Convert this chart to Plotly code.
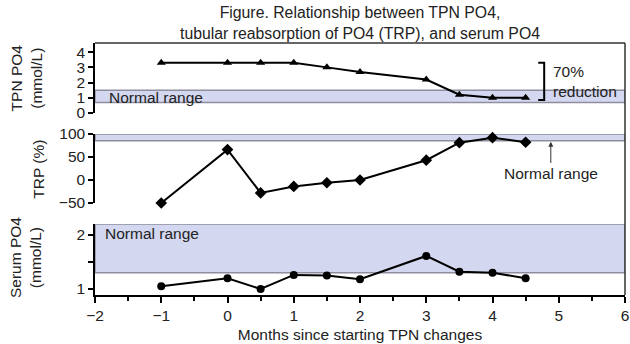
import plotly.graph_objects as go
from plotly.subplots import make_subplots

# months since starting TPN changes
months = [-1, 0, 0.5, 1, 1.5, 2, 3, 3.5, 4, 4.5]

tpn_po4 = [3.3, 3.3, 3.3, 3.3, 3.0, 2.7, 2.2, 1.2, 1.0, 1.0]
trp_pct = [-50, 66, -28, -14, -6, 0, 43, 81, 92, 82]
serum_po4 = [1.05, 1.2, 1.0, 1.26, 1.25, 1.18, 1.61, 1.32, 1.3, 1.2]

# normal ranges
tpn_normal = [0.7, 1.5]
trp_normal = [85, 100]
serum_normal = [1.3, 2.2]

x_ticks = [-2, -1, 0, 1, 2, 3, 4, 5, 6]

FONT = "Liberation Sans, Arial, sans-serif"
FS = 15.5
TXT = "#222222"
BAND_FILL = "#d3d7ef"
BAND_LINE = "#8e8e9e"

fig = make_subplots(rows=3, cols=1, shared_xaxes=True)

fig.add_trace(
    go.Scatter(x=months, y=tpn_po4, mode="lines+markers", cliponaxis=False,
               line=dict(color="black", width=2),
               marker=dict(symbol="triangle-up", size=8, color="black")),
    row=1, col=1,
)
fig.add_trace(
    go.Scatter(x=months, y=trp_pct, mode="lines+markers", cliponaxis=False,
               line=dict(color="black", width=2),
               marker=dict(symbol="diamond", size=9, color="black")),
    row=2, col=1,
)
fig.add_trace(
    go.Scatter(x=months, y=serum_po4, mode="lines+markers", cliponaxis=False,
               line=dict(color="black", width=2),
               marker=dict(symbol="circle", size=8, color="black")),
    row=3, col=1,
)

# normal range bands
for (lo, hi), yref in [(tpn_normal, "y"), (trp_normal, "y2"), (serum_normal, "y3")]:
    fig.add_shape(type="rect", xref="x", yref=yref, x0=-2, x1=6, y0=lo, y1=hi,
                  fillcolor=BAND_FILL, line=dict(color=BAND_LINE, width=1.5),
                  layer="below")

# frame: top and right border
fig.add_shape(type="line", xref="paper", yref="paper", x0=0, x1=1, y0=1, y1=1,
              line=dict(color="#333333", width=1.5))
fig.add_shape(type="line", xref="paper", yref="paper", x0=1, x1=1, y0=0, y1=1,
              line=dict(color="#333333", width=1.5))

# 70% reduction bracket
fig.add_shape(type="path", xref="x", yref="y",
              path="M 4.69 3.3 L 4.78 3.3 L 4.78 0.85 L 4.69 0.85",
              line=dict(color="black", width=2))

ann = dict(showarrow=False, font=dict(family=FONT, size=FS, color=TXT))
fig.add_annotation(x=-1.82, y=1.05, xref="x", yref="y", text="Normal range",
                   xanchor="left", yanchor="middle", **ann)
fig.add_annotation(x=-1.88, y=2.02, xref="x3", yref="y3", text="Normal range",
                   xanchor="left", yanchor="middle", **ann)
fig.add_annotation(x=4.88, y=2.1, xref="x", yref="y", text="70%<br>reduction",
                   xanchor="left", yanchor="middle", align="left", **ann)
fig.add_annotation(x=4.88, y=83, xref="x2", yref="y2", ax=4.88, ay=37,
                   axref="x2", ayref="y2", text="Normal range", showarrow=True,
                   arrowhead=2, arrowsize=1, arrowwidth=1, arrowcolor="#333333",
                   yanchor="top", font=dict(family=FONT, size=FS, color=TXT))

# title
fig.add_annotation(
    x=0.5, y=1.163, xref="paper", yref="paper", xanchor="center", yanchor="top",
    text="Figure. Relationship between TPN PO4,<br>tubular reabsorption of PO4 (TRP), and serum PO4",
    showarrow=False, font=dict(family=FONT, size=15.8, color=TXT),
)

# y axis titles
ytitle = dict(showarrow=False, textangle=-90, xref="paper", yref="paper",
              xanchor="center", yanchor="middle",
              font=dict(family=FONT, size=FS, color=TXT))
fig.add_annotation(x=-0.13, y=0.86, text="TPN PO4<br>(mmol/L)", **ytitle)
fig.add_annotation(x=-0.108, y=0.50, text="TRP (%)", **ytitle)
fig.add_annotation(x=-0.13, y=0.147, text="Serum PO4<br>(mmol/L)", **ytitle)

axis_common = dict(showline=True, linecolor="black", linewidth=1.5,
                   ticks="outside", tickwidth=1.5, tickcolor="black",
                   showgrid=False, zeroline=False,
                   tickfont=dict(family=FONT, size=FS, color=TXT))

fig.update_xaxes(range=[-2, 6], showgrid=False, zeroline=False)
fig.update_xaxes(showline=False, showticklabels=False, ticks="", row=1, col=1)
fig.update_xaxes(showline=False, showticklabels=False, ticks="", row=2, col=1)
fig.update_xaxes(
    **axis_common, tickvals=x_ticks, ticklen=6, ticklabeloverflow="allow",
    minor=dict(dtick=0.5, ticks="outside", ticklen=4, tickcolor="black"),
    title=dict(text="Months since starting TPN changes", standoff=6,
               font=dict(family=FONT, size=FS, color=TXT)),
    row=3, col=1,
)

fig.update_yaxes(**axis_common, ticklen=5, range=[0, 4.6], tickvals=[0, 1, 2, 3, 4],
                 domain=[0.722, 1.0], row=1, col=1)
fig.update_yaxes(**axis_common, ticklen=5, range=[-50, 100], tickvals=[-50, 0, 50, 100],
                 domain=[0.365, 0.639], row=2, col=1)
fig.update_yaxes(**axis_common, ticklen=5, range=[0.89, 2.2], tickvals=[1, 2],
                 minor=dict(tickvals=[1.5], ticks="outside", ticklen=5,
                            tickcolor="black"),
                 domain=[0.0, 0.282], row=3, col=1)

fig.update_layout(
    width=630,
    height=344,
    margin=dict(l=95, r=1, t=43, b=49),
    paper_bgcolor="white",
    plot_bgcolor="white",
    showlegend=False,
)

fig.write_html("out.html", config={"displayModeBar": False},
               post_script="document.body.style.margin='0';")
